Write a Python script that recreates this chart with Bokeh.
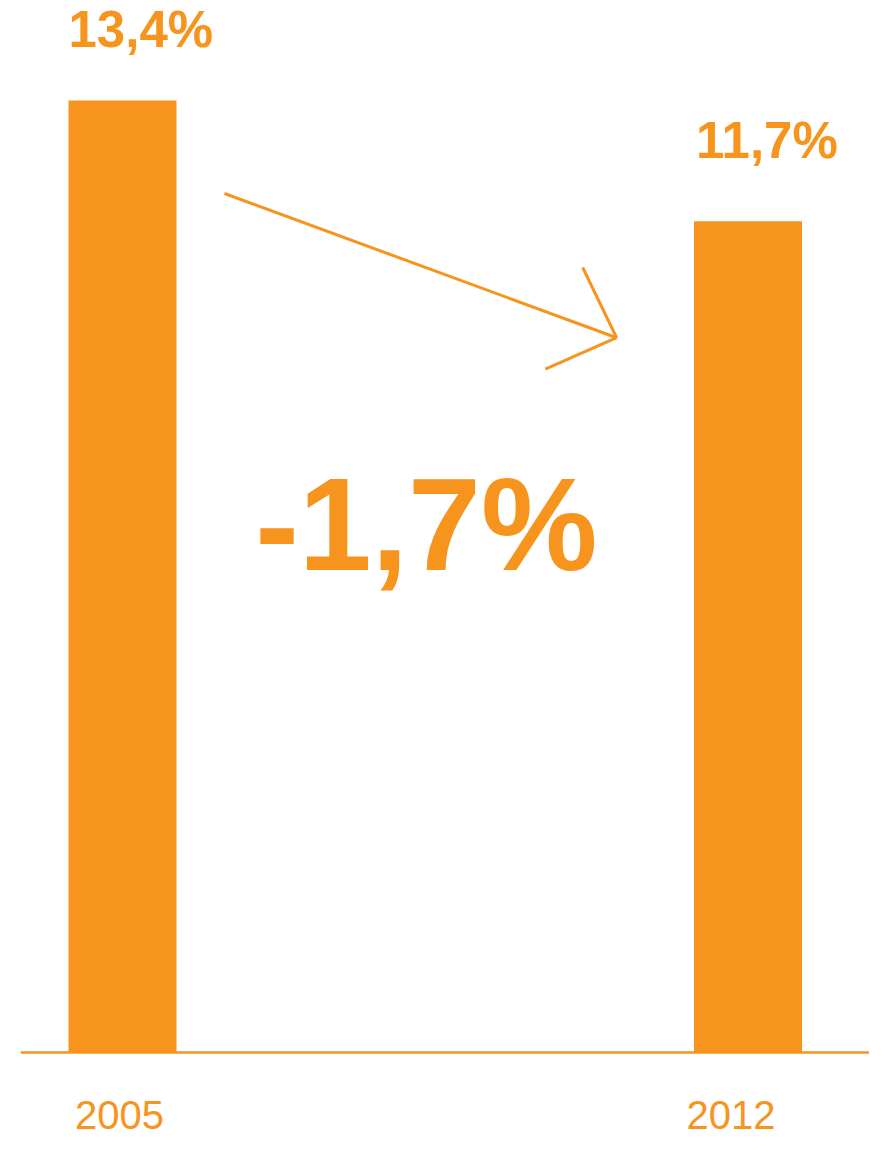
import math
from bokeh.plotting import figure
from bokeh.models import Range1d, Span, ColumnDataSource
from bokeh.core.properties import value
from bokeh.embed import file_html
from bokeh.resources import INLINE

# ---- data ----
years = ["2005", "2012"]
shares = [13.4, 11.7]
value_labels = ["13,4%", "11,7%"]
change_label = "-1,7%"

# ---- style / layout ----
ORANGE = "#F7941D"
FONT = "Liberation Sans"
W, H = 869, 1141
LEFT = 20
FW = W - LEFT
X0_PX, X1_PX = 102.0, 727.5          # bar centres inside the frame (px)
PX_PER_X = X1_PX - X0_PX
BASE_PX = 89.0                        # baseline height above bottom (px)
PX_PER_Y = 71.05
BAR_W = 108.0 / PX_PER_X

p = figure(
    width=W, height=H,
    x_range=Range1d(-X0_PX / PX_PER_X, (FW - X0_PX) / PX_PER_X),
    y_range=Range1d(-BASE_PX / PX_PER_Y, (H - BASE_PX) / PX_PER_Y),
    output_backend="svg", toolbar_location=None,
    x_axis_location=None, y_axis_location=None,
    min_border_left=LEFT, min_border_right=0, min_border_top=0, min_border_bottom=0,
)
p.grid.visible = False
p.outline_line_color = None
p.background_fill_color = "white"
p.border_fill_color = "white"

xs = list(range(len(years)))

p.vbar(x=xs, top=shares, bottom=0, width=BAR_W, fill_color=ORANGE, line_color=None)
p.add_layout(Span(location=0, dimension="width", line_color=ORANGE, line_width=2.5))

# value labels above bars
vsrc = ColumnDataSource(dict(
    x=[x - BAR_W / 2 for x in xs], y=shares, text=value_labels,
    xo=[0, 2], yo=[-71, -81],
))
p.text(x="x", y="y", text="text", source=vsrc, x_offset="xo", y_offset="yo",
       text_font=value(FONT), text_font_style="bold", text_font_size="51px",
       text_color=ORANGE, text_align="left", text_baseline="alphabetic")

# year labels below baseline
ysrc = ColumnDataSource(dict(x=xs, y=[0, 0], text=years, xo=[-3, -17], yo=[62, 62]))
p.text(x="x", y="y", text="text", source=ysrc, x_offset="xo", y_offset="yo",
       text_font=value(FONT), text_font_size="40px",
       text_color=ORANGE, text_align="center", text_baseline="alphabetic")

# change label
p.text(x=[0.5], y=[6.74], text=[change_label], x_offset=-9, y_offset=-49,
       text_font=value(FONT), text_font_style="bold", text_font_size="131px",
       text_color=ORANGE, text_align="center", text_baseline="alphabetic")

# arrow (decoration)
ax0, ay0 = 0.163, 12.09
ax1, ay1 = 0.790, 10.06
p.line(x=[ax0, ax1], y=[ay0, ay1], line_color=ORANGE, line_width=3)
# head lines computed in pixel space
dxp = (ax0 - ax1) * PX_PER_X
dyp = (ay0 - ay1) * PX_PER_Y
back = math.atan2(dyp, dxp)
HEAD_LEN, HEAD_ANG = 78.0, math.radians(44)
hx, hy = [], []
for s in (1, -1):
    a = back + s * HEAD_ANG
    hx.append([ax1, ax1 + HEAD_LEN * math.cos(a) / PX_PER_X])
    hy.append([ay1, ay1 + HEAD_LEN * math.sin(a) / PX_PER_Y])
p.multi_line(xs=hx, ys=hy, line_color=ORANGE, line_width=3)

open("out.html", "w").write(file_html(p, INLINE))
